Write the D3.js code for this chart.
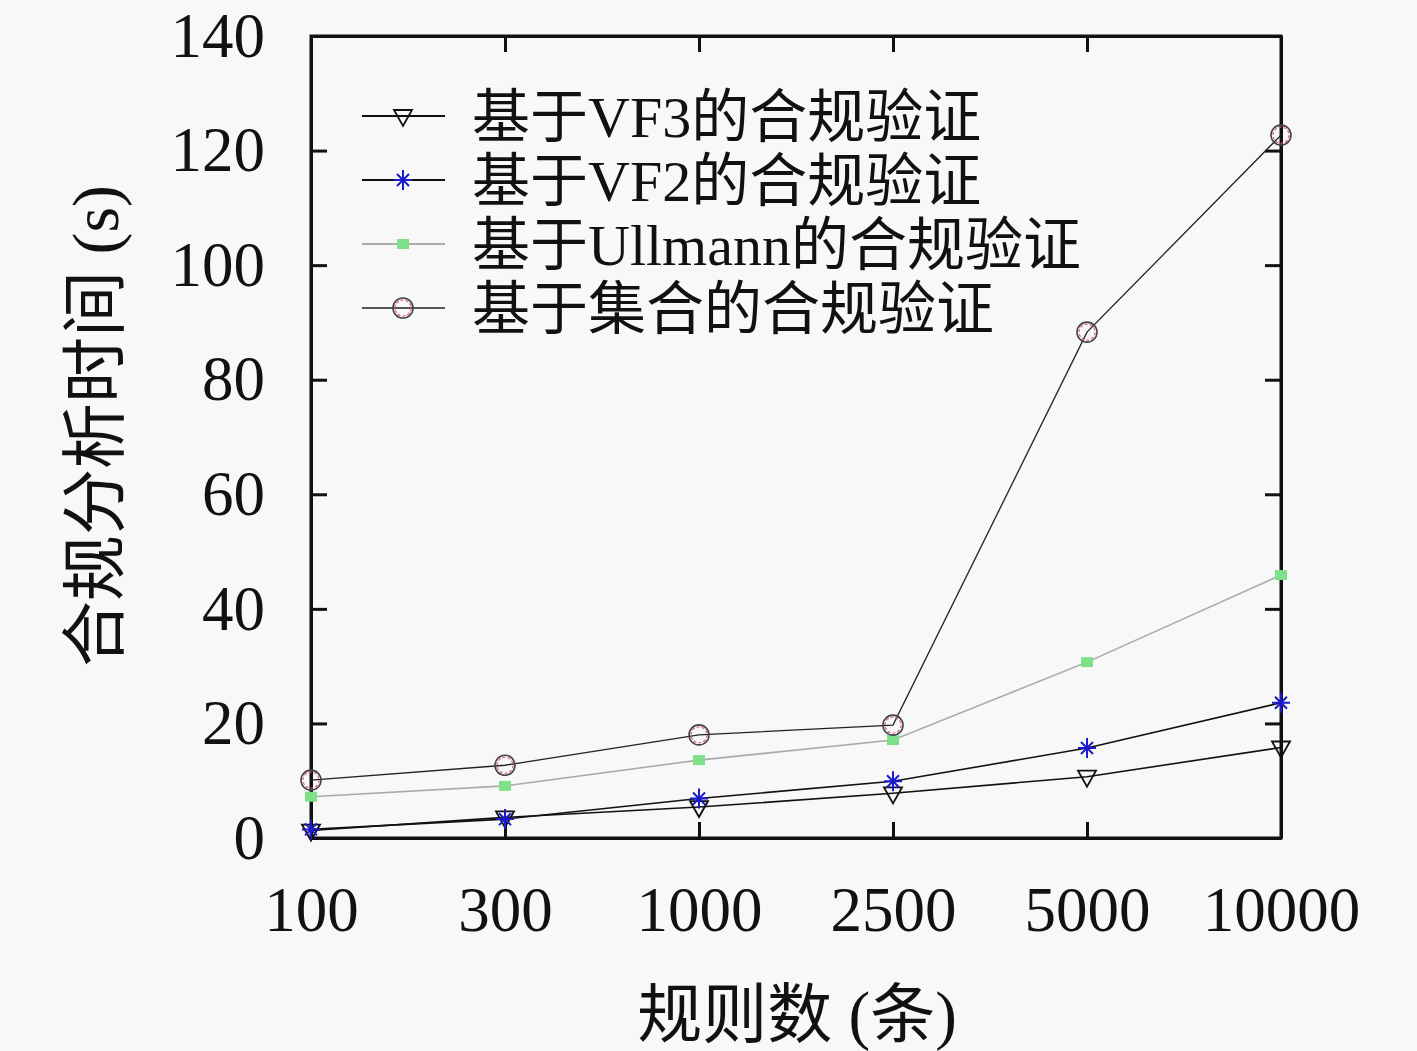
<!DOCTYPE html>
<html>
<head>
    <meta charset="utf-8">
    <script src="https://d3js.org/d3.v7.min.js"></script>
    <style>
        body { margin: 0; background: #f8f8f8; }
        text { font-family: "Liberation Serif", "Noto Sans CJK SC", serif; fill: #111; }
    </style>
</head>
<body>
    <div id="chart"></div>
    <script>
        // data
        const rules = ["100", "300", "1000", "2500", "5000", "10000"];
        const vf3 = [1.3, 3.6, 5.4, 7.8, 10.7, 15.8];
        const vf2 = [1.5, 3.3, 6.9, 9.9, 15.7, 23.6];
        const ullmann = [7.2, 9.1, 13.6, 17.1, 30.7, 45.9];
        const setBased = [10.1, 12.7, 18.0, 19.7, 88.3, 122.7];
        const yTicks = [0, 20, 40, 60, 80, 100, 120, 140];
        const names = ["基于VF3的合规验证", "基于VF2的合规验证", "基于Ullmann的合规验证", "基于集合的合规验证"];

        const W = 1417, H = 1051;
        const margin = { top: 36, right: 136, bottom: 213, left: 311 };
        const width = W - margin.left - margin.right,
            height = H - margin.top - margin.bottom;

        const svg = d3.select("#chart").append("svg")
            .attr("width", W).attr("height", H)
            .style("background", "#f8f8f8");
        const g = svg.append("g")
            .attr("transform", `translate(${margin.left},${margin.top})`);

        const x = d3.scalePoint().domain(rules).range([0, width]);
        const y = d3.scaleLinear().domain([0, 140]).range([height, 0]);

        // frame with inward ticks on all four sides
        const tick = 16;
        g.append("g").call(d3.axisLeft(y).tickValues(yTicks).tickSizeInner(-tick).tickSizeOuter(0).tickPadding(46))
            .call(a => a.selectAll("text").style("font-size", "63px").attr("fill", "#111"));
        g.append("g").attr("transform", `translate(${width},0)`)
            .call(d3.axisRight(y).tickValues(yTicks).tickSizeInner(-tick).tickSizeOuter(0).tickFormat(""));
        g.append("g").attr("transform", `translate(0,${height})`)
            .call(d3.axisBottom(x).tickSizeInner(-tick).tickSizeOuter(0).tickPadding(48))
            .call(a => a.selectAll("text").style("font-size", "63px").attr("fill", "#111"));
        g.append("g")
            .call(d3.axisTop(x).tickSizeInner(-tick).tickSizeOuter(0).tickFormat(""));
        g.selectAll(".domain").attr("stroke", "#111").attr("stroke-width", 3);
        g.selectAll(".tick line").attr("stroke", "#111").attr("stroke-width", 3);
        g.append("rect").attr("width", width).attr("height", height)
            .attr("fill", "none").attr("stroke", "#111").attr("stroke-width", 3);

        // axis titles
        svg.append("text")
            .attr("transform", `translate(${margin.left + width / 2 + 1},${H - 14})`)
            .attr("text-anchor", "middle")
            .style("font-size", "65px")
            .text("规则数 (条)");
        svg.append("text")
            .attr("transform", `translate(118,${margin.top + height / 2 - 11}) rotate(-90)`)
            .attr("text-anchor", "middle")
            .style("font-size", "66px")
            .text("合规分析时间 (s)");

        const series = [
            { name: names[0], values: vf3, line: "#111", width: 1.6, marker: "tri" },
            { name: names[1], values: vf2, line: "#111", width: 1.6, marker: "star" },
            { name: names[2], values: ullmann, line: "#aaa", width: 1.6, marker: "sq" },
            { name: names[3], values: setBased, line: "#222", width: 1.3, marker: "circ" }
        ];

        const line = d3.line().x((d, i) => x(rules[i])).y(d => y(d));

        function drawMarker(sel, type) {
            if (type === "tri") {
                sel.append("path").attr("d", "M-9,-6 L9,-6 L0,10 Z")
                    .attr("fill", "none").attr("stroke", "#111").attr("stroke-width", 1.8);
            } else if (type === "star") {
                sel.append("path").attr("d", "M0,-10 L0,10 M-9,0 L9,0 M-6,-6 L6,6 M-6,6 L6,-6")
                    .attr("stroke", "#1a1acc").attr("stroke-width", 2);
            } else if (type === "sq") {
                sel.append("rect").attr("x", -6).attr("y", -5).attr("width", 12).attr("height", 10)
                    .attr("fill", "#7fe08a");
            } else {
                sel.append("circle").attr("r", 10)
                    .attr("fill", "none").attr("stroke", "#444").attr("stroke-width", 1.6);
                sel.append("circle").attr("r", 8)
                    .attr("fill", "none").attr("stroke", "#e06080").attr("stroke-width", 1.2)
                    .attr("stroke-dasharray", "3,2");
            }
        }

        series.forEach(s => {
            g.append("path").datum(s.values)
                .attr("fill", "none").attr("stroke", s.line).attr("stroke-width", s.width)
                .attr("d", line);
            s.values.forEach((v, i) => {
                const m = g.append("g").attr("transform", `translate(${x(rules[i])},${y(v)})`);
                drawMarker(m, s.marker);
            });
        });

        // legend
        const legend = svg.append("g").attr("transform", "translate(362,116)");
        series.forEach((s, i) => {
            const row = legend.append("g").attr("transform", `translate(0,${i * 64})`);
            row.append("line").attr("x1", 0).attr("x2", 83)
                .attr("stroke", s.line).attr("stroke-width", s.width + 0.4);
            drawMarker(row.append("g").attr("transform", "translate(41,0)"), s.marker);
            row.append("text").attr("x", 110).attr("dy", "0.36em")
                .style("font-size", "58px").text(s.name);
        });
    </script>
</body>
</html>
